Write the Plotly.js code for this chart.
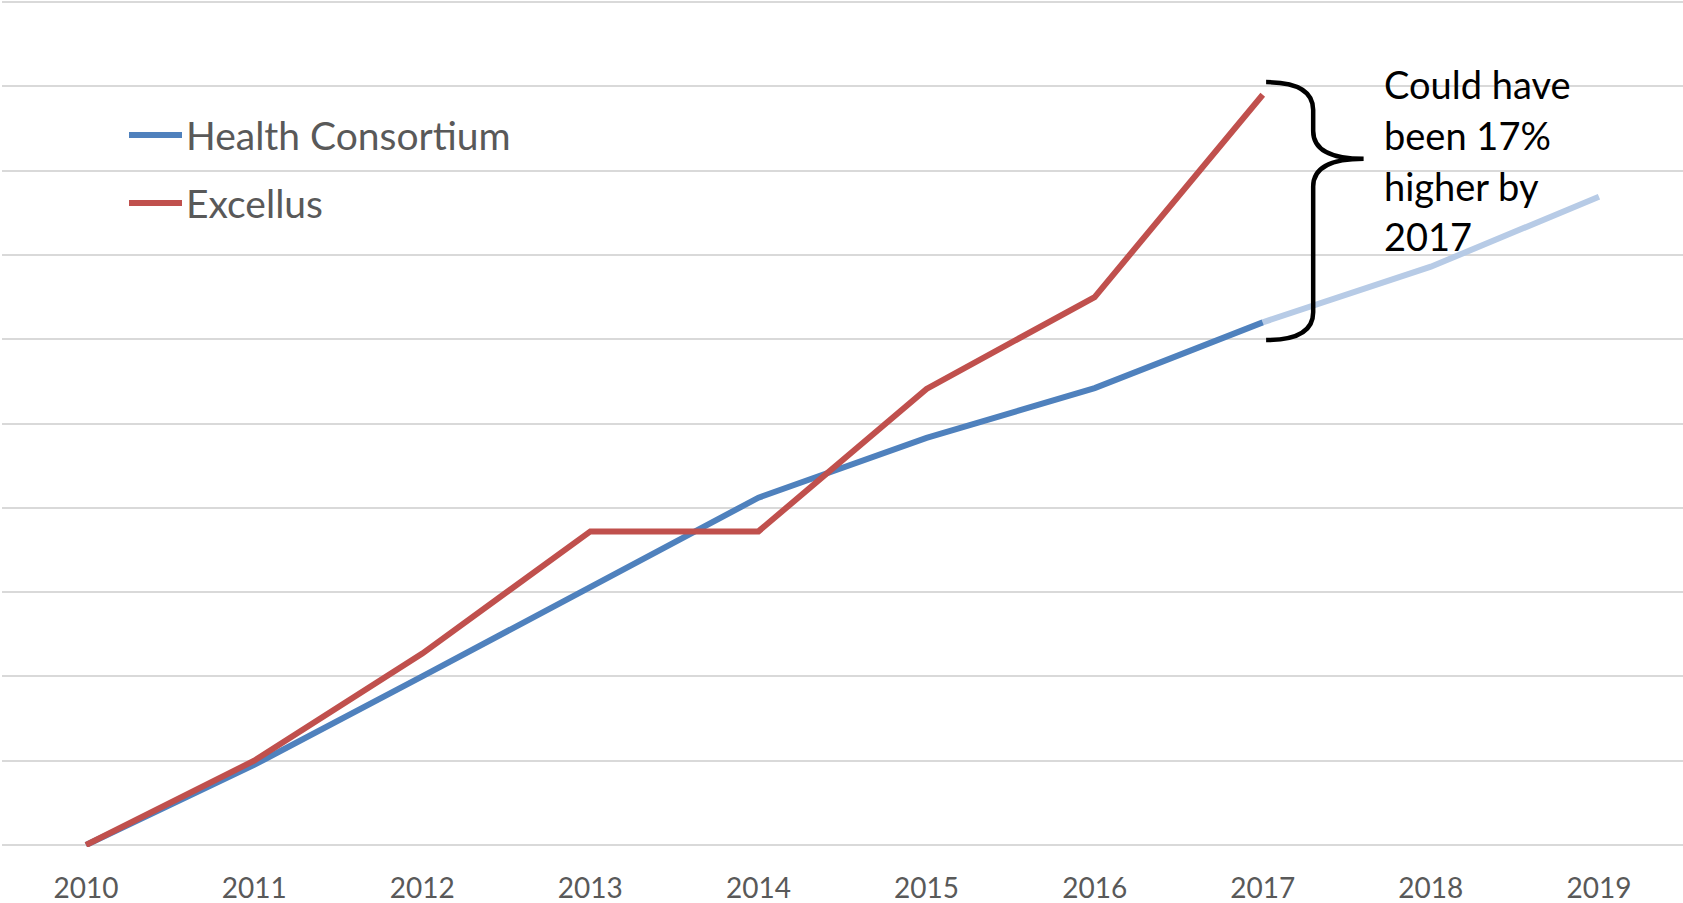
<!DOCTYPE html>
<html>
<head>
<meta charset="utf-8">
<script src="https://cdn.plot.ly/plotly-3.0.1.min.js"></script>
<style>
  html, body { margin: 0; padding: 0; background: #ffffff; }
  #chart { width: 1683px; height: 903px; }
</style>
</head>
<body>
<div id="chart"></div>
<script>
// ---- data ----
const years = [2010, 2011, 2012, 2013, 2014, 2015, 2016, 2017, 2018, 2019];
const consortiumYears = [2010, 2011, 2012, 2013, 2014, 2015, 2016, 2017];
const consortiumValues = [0, 9.5, 20.0, 30.7, 41.2, 48.3, 54.2, 62.0];
const projectedYears = [2017, 2018, 2019];
const projectedValues = [62.0, 68.6, 76.9];
const excellusYears = [2010, 2011, 2012, 2013, 2014, 2015, 2016, 2017];
const excellusValues = [0, 10.0, 22.7, 37.2, 37.2, 54.1, 65.0, 89.0];
const seriesNames = ["Health Consortium", "Excellus"];
const noteLines = ["Could have", "been 17%", "higher by", "2017"];

// ---- layout helpers (pixel -> paper) ----
const W = 1683, H = 903, ML = 2, MR = 0, MT = 0, MB = 56;
const PW = W - ML - MR, PH = H - MT - MB;
const px = x => (x - ML) / PW;
const py = y => (H - MB - y) / PH;
const yPad = 2 * 100 / 843;

const FONT = "Lato, 'Open Sans', 'DejaVu Sans', sans-serif";
const BLUE = "#4f81bd", RED = "#c0504d", LIGHT = "#b7cbe6";

const traces = [
  { x: projectedYears, y: projectedValues, type: "scatter", mode: "lines",
    name: "Projected", line: { color: LIGHT, width: 6 }, showlegend: false, hoverinfo: "skip" },
  { x: consortiumYears, y: consortiumValues, type: "scatter", mode: "lines",
    name: seriesNames[0], line: { color: BLUE, width: 6 }, showlegend: false },
  { x: excellusYears, y: excellusValues, type: "scatter", mode: "lines",
    name: seriesNames[1], line: { color: RED, width: 6 }, showlegend: false }
];

// brace (data coordinates)
const bx0 = 2017.02, bxs = 2017.30, bxp = 2017.60;
const byt = 90.5, bym = 81.4, byb = 59.9, r = 3.3;
const bracePath =
  `M ${bx0},${byt} Q ${bxs},${byt} ${bxs},${byt - r} ` +
  `L ${bxs},${bym + r} Q ${bxs},${bym} ${bxp},${bym} ` +
  `Q ${bxs},${bym} ${bxs},${bym - r} ` +
  `L ${bxs},${byb + r} Q ${bxs},${byb} ${bx0},${byb}`;

const legendY = [135, 203];
const legendColors = [BLUE, RED];
const shapes = [
  { type: "path", xref: "x", yref: "y", path: bracePath,
    line: { color: "#000000", width: 4.5 }, fillcolor: "rgba(0,0,0,0)" }
];
const annotations = [];
seriesNames.forEach((name, i) => {
  shapes.push({ type: "line", xref: "paper", yref: "paper",
    x0: px(129), x1: px(182), y0: py(legendY[i]), y1: py(legendY[i]),
    line: { color: legendColors[i], width: 6 } });
  annotations.push({ xref: "paper", yref: "paper", x: px(184), y: py(legendY[i]),
    xanchor: "left", yanchor: "middle", showarrow: false, text: name,
    font: { family: FONT, size: 39, color: "#595959" } });
});
const noteCenters = [81.6, 133, 183.5, 234];
noteLines.forEach((t, i) => {
  annotations.push({ xref: "paper", yref: "paper", x: px(1382), y: py(noteCenters[i] + 2),
    xanchor: "left", yanchor: "middle", showarrow: false, text: t,
    font: { family: FONT, size: 38, color: "#000000" } });
});

const layout = {
  width: W, height: H,
  margin: { l: ML, r: MR, t: MT, b: MB, pad: 0 },
  paper_bgcolor: "#ffffff", plot_bgcolor: "#ffffff",
  showlegend: false,
  xaxis: {
    range: [2009.5, 2019.5], tickvals: years, ticktext: years.map(String),
    showgrid: false, zeroline: false, showline: false, ticks: "",
    tickfont: { family: FONT, size: 28, color: "#595959" },
    ticklabelstandoff: 22, fixedrange: true
  },
  yaxis: {
    range: [-yPad, 100 + yPad], dtick: 10, tick0: 0, showticklabels: false,
    showgrid: true, gridcolor: "#d9d9d9", gridwidth: 2,
    zeroline: false, showline: false, ticks: "", fixedrange: true
  },
  shapes: shapes,
  annotations: annotations
};

Plotly.newPlot("chart", traces, layout, { displayModeBar: false, staticPlot: true });
</script>
</body>
</html>
